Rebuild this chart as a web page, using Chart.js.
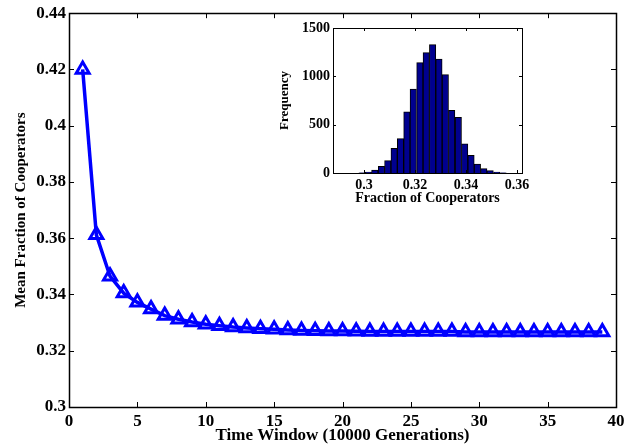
<!DOCTYPE html>
<html>
<head>
<meta charset="utf-8">
<script src="https://cdn.jsdelivr.net/npm/chart.js@4.4.1/dist/chart.umd.min.js"></script>
<style>
  html, body { margin: 0; padding: 0; background: #fff; }
  #wrap { position: relative; width: 639px; height: 446px; }
  #main { position: absolute; left: 0; top: 0; }
  #inset { position: absolute; left: 270px; top: 10px; }
</style>
</head>
<body>
<div id="wrap">
  <canvas id="main" width="639" height="446"></canvas>
  <canvas id="inset" width="270" height="200"></canvas>
</div>
<script>
// main plot: mean fraction of cooperators per time window
var timeWindows = [1, 2, 3, 4, 5, 6, 7, 8, 9, 10, 11, 12, 13, 14, 15, 16, 17, 18, 19, 20,
                   21, 22, 23, 24, 25, 26, 27, 28, 29, 30, 31, 32, 33, 34, 35, 36, 37, 38, 39];
var meanCoop = [0.4200, 0.3612, 0.3465, 0.3405, 0.3372, 0.3348, 0.3325, 0.3312, 0.3302, 0.3294,
                0.3289, 0.3284, 0.3281, 0.3278, 0.3276, 0.3274, 0.3272, 0.3271, 0.3270, 0.3270,
                0.3269, 0.3268, 0.3268, 0.3268, 0.3268, 0.3268, 0.3268, 0.3268, 0.3267, 0.3267,
                0.3267, 0.3267, 0.3267, 0.3267, 0.3267, 0.3267, 0.3267, 0.3267, 0.3267];
var mainXTicks = [0, 5, 10, 15, 20, 25, 30, 35, 40];
var mainYTicks = [0.3, 0.32, 0.34, 0.36, 0.38, 0.4, 0.42, 0.44];

// inset histogram
var binCenters = [0.2992, 0.3017, 0.3042, 0.3068, 0.3093, 0.3118, 0.3143, 0.3168, 0.3193, 0.3219,
                  0.3244, 0.3269, 0.3294, 0.3319, 0.3344, 0.3370, 0.3395, 0.3420, 0.3445, 0.3470,
                  0.3495, 0.3521, 0.3546];
var binCounts = [3, 10, 31, 69, 128, 255, 355, 634, 869, 1141,
                 1245, 1328, 1179, 1017, 648, 576, 303, 183, 93, 45,
                 24, 10, 3];
var histXTicks = [0.3, 0.32, 0.34, 0.36];
var histYTicks = [0, 500, 1000, 1500];

var FONT = "'Liberation Serif', 'Times New Roman', serif";
Chart.defaults.font.family = FONT;
Chart.defaults.font.weight = 'bold';
Chart.defaults.color = '#000';

function fmt(v) { return String(parseFloat(Number(v).toFixed(2))); }

// matlab style box with inward ticks
var boxPlugin = {
  id: 'box',
  beforeDraw: function (chart, args, opts) {
    if (!opts.fill) return;
    var a = chart.chartArea, ctx = chart.ctx;
    ctx.save();
    ctx.fillStyle = '#fff';
    ctx.fillRect(a.left, a.top, a.right - a.left, a.bottom - a.top);
    ctx.restore();
  },
  afterDatasetsDraw: function (chart, args, opts) {
    var a = chart.chartArea, ctx = chart.ctx;
    var xs = chart.scales.x, ys = chart.scales.y, L = opts.len;
    ctx.save();
    ctx.strokeStyle = '#000';
    ctx.lineWidth = 1;
    ctx.beginPath();
    xs.ticks.forEach(function (t) {
      var p = Math.round(xs.getPixelForValue(t.value)) + 0.5;
      ctx.moveTo(p, a.bottom); ctx.lineTo(p, a.bottom - L);
      ctx.moveTo(p, a.top); ctx.lineTo(p, a.top + L);
    });
    ys.ticks.forEach(function (t) {
      var p = Math.round(ys.getPixelForValue(t.value)) + 0.5;
      ctx.moveTo(a.left, p); ctx.lineTo(a.left + L, p);
      ctx.moveTo(a.right, p); ctx.lineTo(a.right - L, p);
    });
    ctx.stroke();
    ctx.lineWidth = opts.lw;
    ctx.strokeRect(Math.round(a.left) + 0.5, Math.round(a.top) + 0.5,
                   Math.round(a.right - a.left), Math.round(a.bottom - a.top));
    ctx.restore();
  }
};

var mainPoints = timeWindows.map(function (t, i) { return { x: t, y: meanCoop[i] }; });

new Chart(document.getElementById('main').getContext('2d'), {
  type: 'line',
  data: {
    datasets: [{
      data: mainPoints,
      borderColor: '#0000FF',
      borderWidth: 3.5,
      pointStyle: 'triangle',
      pointRadius: 7.5,
      pointBorderWidth: 3,
      pointBorderColor: '#0000FF',
      pointBackgroundColor: 'rgba(0,0,0,0)',
      fill: false,
      tension: 0
    }]
  },
  options: {
    responsive: false,
    animation: false,
    layout: { padding: { top: 10, right: 23, left: 0, bottom: 0 } },
    plugins: { legend: { display: false }, tooltip: { enabled: false },
               box: { len: 5, lw: 1.5 } },
    scales: {
      x: {
        type: 'linear', min: 0, max: 40,
        grid: { display: false, drawTicks: false },
        border: { display: false },
        afterFit: function (s) { s.height = 39; },
        afterBuildTicks: function (s) { s.ticks = mainXTicks.map(function (v) { return { value: v }; }); },
        ticks: { color: '#000', padding: 4, maxRotation: 0, callback: function (v) { return String(v); },
                 font: { family: FONT, size: 17, weight: 'bold' } },
        title: { display: true, text: 'Time Window (10000 Generations)', color: '#000',
                 padding: { top: 0, bottom: 0 }, font: { family: FONT, size: 17, weight: 'bold' } }
      },
      y: {
        min: 0.3, max: 0.44,
        grid: { display: false, drawTicks: false },
        border: { display: false },
        afterFit: function (s) { s.width = 69; },
        afterBuildTicks: function (s) { s.ticks = mainYTicks.map(function (v) { return { value: v }; }); },
        ticks: { color: '#000', padding: 3, callback: fmt, font: { family: FONT, size: 17, weight: 'bold' } },
        title: { display: true, text: 'Mean Fraction of Cooperators', color: '#000',
                 padding: { top: 12, bottom: 0 }, font: { family: FONT, size: 15, weight: 'bold' } }
      }
    }
  },
  plugins: [boxPlugin]
});

var histPoints = binCenters.map(function (c, i) { return { x: c, y: binCounts[i] }; });

new Chart(document.getElementById('inset').getContext('2d'), {
  type: 'bar',
  data: {
    datasets: [{
      data: histPoints,
      backgroundColor: '#00008F',
      borderColor: '#000',
      borderWidth: 1,
      barPercentage: 1,
      categoryPercentage: 1
    }]
  },
  options: {
    responsive: false,
    animation: false,
    layout: { padding: { top: 18, right: 18, left: 0, bottom: 0 } },
    plugins: { legend: { display: false }, tooltip: { enabled: false },
               box: { len: 3, lw: 1, fill: true } },
    scales: {
      x: {
        type: 'linear', min: 0.2878, max: 0.362, offset: false,
        grid: { display: false, drawTicks: false },
        border: { display: false },
        afterFit: function (s) { s.height = 37; },
        afterBuildTicks: function (s) { s.ticks = histXTicks.map(function (v) { return { value: v }; }); },
        ticks: { color: '#000', padding: 4, maxRotation: 0, callback: fmt,
                 font: { family: FONT, size: 14, weight: 'bold' } },
        title: { display: true, text: 'Fraction of Cooperators', color: '#000',
                 padding: { top: 0, bottom: 3 }, font: { family: FONT, size: 14, weight: 'bold' } }
      },
      y: {
        min: 0, max: 1500,
        grid: { display: false, drawTicks: false },
        border: { display: false },
        afterFit: function (s) { s.width = 63; },
        afterBuildTicks: function (s) { s.ticks = histYTicks.map(function (v) { return { value: v }; }); },
        ticks: { color: '#000', padding: 3, callback: function (v) { return String(v); },
                 font: { family: FONT, size: 14, weight: 'bold' } },
        title: { display: true, text: 'Frequency', color: '#000',
                 padding: { top: 7, bottom: 0 }, font: { family: FONT, size: 13, weight: 'bold' } }
      }
    }
  },
  plugins: [boxPlugin]
});
</script>
</body>
</html>
